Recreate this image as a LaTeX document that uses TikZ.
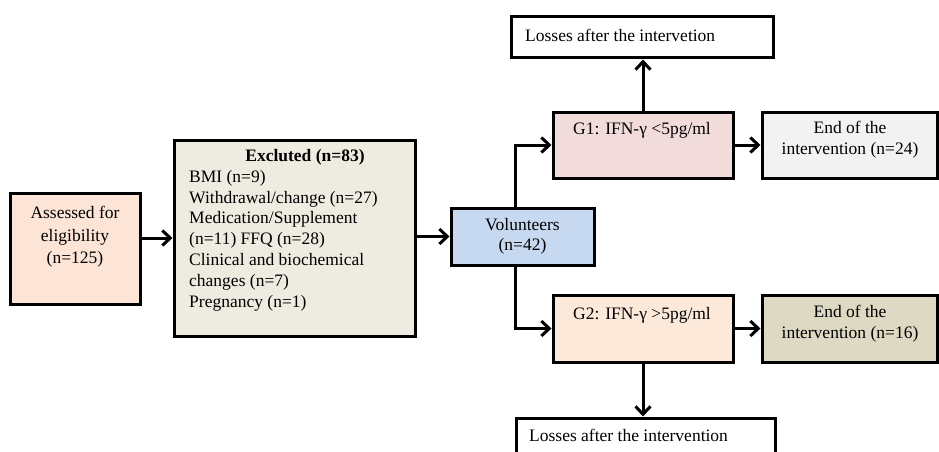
\documentclass[tikz,border=0pt]{standalone}
\usepackage{fontspec}
\setmainfont{Liberation Serif}
\usetikzlibrary{arrows.meta}

\definecolor{assessfill}{HTML}{FCE4D6}
\definecolor{exclfill}{HTML}{EEECE1}
\definecolor{volfill}{HTML}{C6D9F1}
\definecolor{gonefill}{HTML}{F2DCDB}
\definecolor{endonefill}{HTML}{F2F2F2}
\definecolor{gtwofill}{HTML}{FDE9D9}
\definecolor{endtwofill}{HTML}{DDD9C3}

\begin{document}
\begin{tikzpicture}[x=1pt, y=-1pt,
    box/.style={draw, line width=3pt, inner sep=0pt},
    txt/.style={inner sep=0pt, font=\fontsize{17.5}{20.8}\selectfont},
    arr/.style={line width=3pt, -{Straight Barb[length=8pt,width=15pt]}}]
  \useasboundingbox (0,0) rectangle (939,452);
  \clip (0,0) rectangle (939,452);

  % LEFT: screening
  \node[box, fill=assessfill, minimum width=130pt, minimum height=111pt] (assess) at (75,248.5) {};
  \node[txt, anchor=north, align=center, font=\fontsize{17.5}{22.5}\selectfont] (assesstxt) at (75,206) {Assessed for\\eligibility\\(n=125)};

  \node[box, fill=exclfill, minimum width=241pt, minimum height=196pt] (excl) at (294.5,238) {};
  \node[txt, font=\fontsize{17.5}{20.8}\selectfont\bfseries] (excltitle) at (305,157.3) {Excluted (n=83)};
  \node[txt, anchor=north west, align=left] (excltxt) at (189,170) {BMI (n=9)\\Withdrawal/change (n=27)\\Medication/Supplement\\(n=11) FFQ (n=28)\\Clinical and biochemical\\changes (n=7)\\Pregnancy (n=1)};

  \node[box, fill=volfill, minimum width=143pt, minimum height=57pt] (vol) at (522.5,236.5) {};
  \node[txt, align=center, font=\fontsize{17.5}{19.5}\selectfont] (voltxt) at (522.5,236.5) {Volunteers\\(n=42)};

  % RIGHT: groups
  \node[box, fill=gonefill, minimum width=180pt, minimum height=66pt] (g1) at (643,145) {};
  \node[txt] (g1txt) at (642,130) {G1: IFN-γ <5pg/ml};
  \node[box, fill=endonefill, minimum width=175pt, minimum height=66pt] (end1) at (849.5,145) {};
  \node[txt, align=center] (end1txt) at (850,139.7) {End of the\\intervention (n=24)};

  \node[box, fill=gtwofill, minimum width=180pt, minimum height=67pt] (g2) at (643,328.5) {};
  \node[txt] (g2txt) at (642,315) {G2: IFN-γ >5pg/ml};
  \node[box, fill=endtwofill, minimum width=175pt, minimum height=67pt] (end2) at (849.5,328.5) {};
  \node[txt, align=center] (end2txt) at (850,323.3) {End of the\\intervention (n=16)};

  % losses
  \node[box, fill=white, minimum width=262pt, minimum height=41pt] (losstop) at (642,37.5) {};
  \node[txt, anchor=west] (losstoptxt) at (525,35) {Losses after the intervetion};
  \node[box, fill=white, minimum width=259pt, minimum height=41pt] (lossbot) at (645.5,438.5) {};
  \node[txt, anchor=west] (lossbottxt) at (529,435) {Losses after the intervention};

  % arrows
  \draw[arr] (assess.east |- excl.west) -- (excl.west);
  \draw[arr] (excl.east |- vol.west) -- (vol.west);
  \draw[arr] ([xshift=-7.5pt]vol.north) |- (g1.west);
  \draw[arr] ([xshift=-7.5pt]vol.south) |- (g2.west);
  \draw[arr] (g1.north) -- (g1.north |- losstop.south);
  \draw[arr] (g2.south) -- (g2.south |- lossbot.north);
  \draw[arr] (g1.east) -- (end1.west);
  \draw[arr] (g2.east) -- (end2.west);
\end{tikzpicture}
\end{document}
